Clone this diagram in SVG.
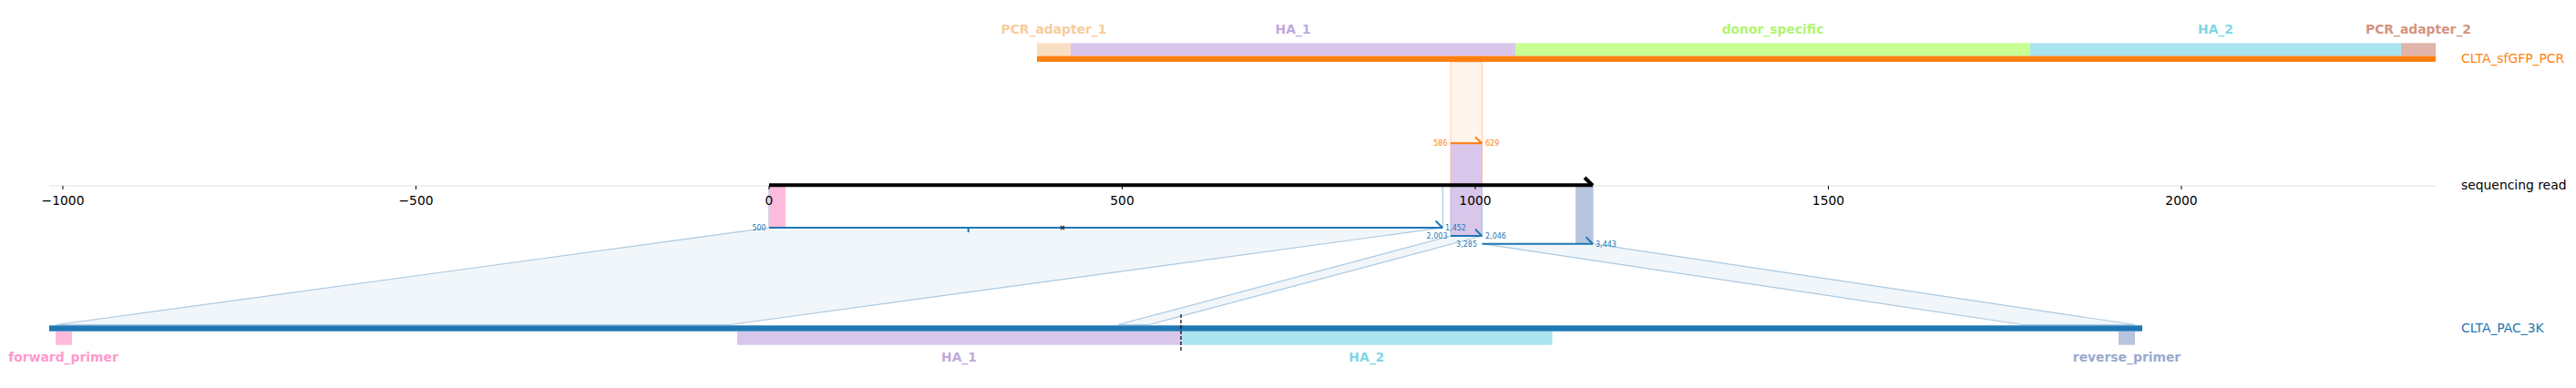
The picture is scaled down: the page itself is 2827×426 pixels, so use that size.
<svg xmlns="http://www.w3.org/2000/svg" width="2827" height="426" viewBox="0 0 2827 426">
<style>
text { font-family: "DejaVu Sans", "Liberation Sans", sans-serif; }
.tick { font-size: 13.89px; fill: #000; text-anchor: middle; }
.flab { font-size: 13.89px; font-weight: bold; text-anchor: middle; }
.rlab { font-size: 13.89px; }
.num { font-size: 8px; }
.numb { fill: #1f77b4; }
.numo { fill: #ff7f0e; }
.end { text-anchor: end; }
.poly { fill: #f1f6fa; stroke: #a9c9e2; stroke-width: 1.2; }
.edge { stroke: #a9c9e2; stroke-width: 1.2; fill: none; }
.aln { stroke: #1f77b4; stroke-width: 2; fill: none; }
</style>
<rect width="2827" height="426" fill="#ffffff"/>

<g id="axis-line">
  <line x1="54" y1="204" x2="2674" y2="204" stroke="#e0e0e0" stroke-width="1"/>
</g>

<g id="connectors">
  <rect x="1592" y="68" width="34.5" height="89" fill="#fff5ec" stroke="#ffcfa6" stroke-width="1"/>
  <polygon class="poly" points="844,250 1583,250 801,356.5 62,356.5"/>
  <polygon class="poly" points="1592,259 1626.5,259 1261,356.5 1227,356.5"/>
  <polygon class="poly" points="1626.5,267.7 1748,267.7 2343,356.5 2220,356.5"/>
  <line class="edge" x1="844" y1="205" x2="844" y2="250"/>
  <line class="edge" x1="1583.3" y1="205" x2="1583.3" y2="250"/>
  <line class="edge" x1="1748" y1="205" x2="1748" y2="267.7"/>
</g>

<g id="projections">
  <rect x="1592" y="157" width="34.5" height="46" fill="#d8c7ea" stroke="#f5bba5" stroke-width="1"/>
  <rect x="1592" y="205" width="34.5" height="54" fill="#d8c7ea" stroke="#a9c0e2" stroke-width="1"/>
  <rect x="844" y="205" width="18" height="45" fill="#ffbadc"/>
  <rect x="1729" y="205" width="19" height="62.7" fill="#b8c4de"/>
</g>

<g id="axis-ticks">
  <g stroke="#000" stroke-width="1">
    <line x1="69" y1="204" x2="69" y2="208"/>
    <line x1="456.5" y1="204" x2="456.5" y2="208"/>
    <line x1="844" y1="204" x2="844" y2="208"/>
    <line x1="1231.5" y1="204" x2="1231.5" y2="208"/>
    <line x1="1619" y1="204" x2="1619" y2="208"/>
    <line x1="2006.5" y1="204" x2="2006.5" y2="208"/>
    <line x1="2394" y1="204" x2="2394" y2="208"/>
  </g>
  <text class="tick" x="69" y="225">−1000</text>
  <text class="tick" x="456.5" y="225">−500</text>
  <text class="tick" x="844" y="225">0</text>
  <text class="tick" x="1231.5" y="225">500</text>
  <text class="tick" x="1619" y="225">1000</text>
  <text class="tick" x="2006.5" y="225">1500</text>
  <text class="tick" x="2394" y="225">2000</text>
</g>

<g id="sequencing-read">
  <line x1="844" y1="203.3" x2="1748" y2="203.3" stroke="#000" stroke-width="4"/>
  <path d="M1739,195 L1748,203.8" stroke="#000" stroke-width="4" fill="none"/>
  <text class="rlab" x="2701" y="208" fill="#000">sequencing read</text>
</g>

<g id="alignment-pcr">
  <line x1="1592" y1="157.2" x2="1626.5" y2="157.2" stroke="#ff7f0e" stroke-width="2"/>
  <path d="M1619,150.5 L1626.3,157.2" stroke="#ff7f0e" stroke-width="2" fill="none"/>
  <text class="num numo end" x="1588.5" y="160">586</text>
  <text class="num numo" x="1630" y="160">629</text>
</g>

<g id="alignment-pac-1">
  <line class="aln" x1="844" y1="250" x2="1583.3" y2="250"/>
  <path class="aln" d="M1575.5,242.5 L1583,250"/>
  <line x1="1062.7" y1="250" x2="1062.7" y2="255" stroke="#1f77b4" stroke-width="2"/>
  <path d="M1164,248 L1168,252 M1168,248 L1164,252" stroke="#222" stroke-width="1.2"/>
  <text class="num numb end" x="840.7" y="252.8">500</text>
  <text class="num numb" x="1586" y="252.8">1,452</text>
</g>

<g id="alignment-pac-2">
  <line class="aln" x1="1592" y1="259" x2="1626.5" y2="259"/>
  <path class="aln" d="M1619,251.8 L1626.3,259"/>
  <text class="num numb end" x="1588.5" y="261.8">2,003</text>
  <text class="num numb" x="1630" y="261.8">2,046</text>
</g>

<g id="alignment-pac-3">
  <line class="aln" x1="1626.5" y1="267.7" x2="1748" y2="267.7"/>
  <path class="aln" d="M1740.5,260.3 L1748,267.7"/>
  <text class="num numb end" x="1621" y="270.5">3,285</text>
  <text class="num numb" x="1751" y="270.5">3,443</text>
</g>

<g id="CLTA_sfGFP_PCR">
  <rect x="1138" y="47.3" width="37" height="14.2" fill="#f9dfc2"/>
  <rect x="1175" y="47.3" width="488" height="14.2" fill="#d8c7ea"/>
  <rect x="1663" y="47.3" width="565" height="14.2" fill="#c8fe94"/>
  <rect x="2228" y="47.3" width="407" height="14.2" fill="#aae4ef"/>
  <rect x="2635" y="47.3" width="38" height="14.2" fill="#e0b4aa"/>
  <rect x="1138" y="61.5" width="1535" height="6.4" fill="#ff7f0e"/>
  <text class="flab" x="1156.5" y="37.4" fill="#f8cc9c">PCR_adapter_1</text>
  <text class="flab" x="1419" y="37.4" fill="#c0a8dc">HA_1</text>
  <text class="flab" x="1945.5" y="37.4" fill="#b0f570">donor_specific</text>
  <text class="flab" x="2431.5" y="37.4" fill="#80d6e6">HA_2</text>
  <text class="flab" x="2654" y="37.4" fill="#d4947f">PCR_adapter_2</text>
  <text class="rlab" x="2701" y="69" fill="#ff7f0e">CLTA_sfGFP_PCR</text>
</g>

<g id="CLTA_PAC_3K">
  <rect x="54" y="357.3" width="2297" height="6.4" fill="#1f77b4"/>
  <rect x="61" y="364" width="18" height="14.7" fill="#ffbadc"/>
  <rect x="809" y="364" width="487" height="14.7" fill="#d8c7ea"/>
  <rect x="1296" y="364" width="407.6" height="14.7" fill="#aae4ef"/>
  <rect x="2325" y="364" width="18" height="14.7" fill="#b8c4de"/>
  <line x1="1296" y1="345" x2="1296" y2="385" stroke="#000" stroke-width="1.2" stroke-dasharray="4,2"/>
  <text class="flab" x="69.5" y="396.6" fill="#ff99cc">forward_primer</text>
  <text class="flab" x="1052.5" y="396.6" fill="#c0a8dc">HA_1</text>
  <text class="flab" x="1499.8" y="396.6" fill="#80d6e6">HA_2</text>
  <text class="flab" x="2334" y="396.6" fill="#9aaacf">reverse_primer</text>
  <text class="rlab" x="2701" y="365.3" fill="#1f77b4">CLTA_PAC_3K</text>
</g>
</svg>
